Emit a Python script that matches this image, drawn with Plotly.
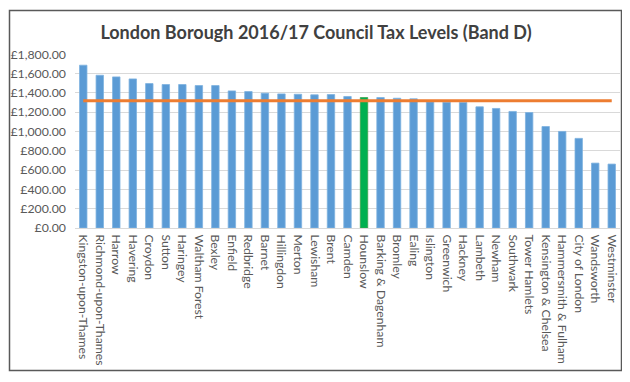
import plotly.graph_objects as go

boroughs = ["Kingston-upon-Thames", "Richmond-upon-Thames", "Harrow", "Havering", "Croydon",
            "Sutton", "Haringey", "Waltham Forest", "Bexley", "Enfield", "Redbridge", "Barnet",
            "Hillingdon", "Merton", "Lewisham", "Brent", "Camden", "Hounslow",
            "Barking & Dagenham", "Bromley", "Ealing", "Islington", "Greenwich", "Hackney",
            "Lambeth", "Newham", "Southwark", "Tower Hamlets", "Kensington & Chelsea",
            "Hammersmith & Fulham", "City of London", "Wandsworth", "Westminster"]
band_d = [1686, 1582, 1565, 1544, 1496, 1486, 1486, 1475, 1475, 1420, 1413, 1396,
          1389, 1385, 1379, 1382, 1362, 1351, 1351, 1344, 1338, 1306, 1303, 1300,
          1255, 1238, 1207, 1196, 1051, 1000, 928, 672, 662]
highlight = "Hounslow"
average = 1319
average_line = [average] * len(boroughs)

BLUE = "#5B9BD5"
GREEN = "#00B050"
ORANGE = "#ED7D31"
colors = [GREEN if b == highlight else BLUE for b in boroughs]
edge = ["#3FA34D" if b == highlight else "#7FB2E0" for b in boroughs]

fig = go.Figure()
fig.add_trace(go.Bar(x=boroughs, y=band_d, marker=dict(color=colors, line=dict(color=edge, width=0.8)),
                     width=0.45, showlegend=False))
fig.add_trace(go.Scatter(x=boroughs, y=average_line, mode="lines",
                         line=dict(color=ORANGE, width=3), showlegend=False))

# page has an 8px body margin; work in page pixels and shift
OFF = 8
W, H = 630 - 2 * OFF, 382 - 2 * OFF
PL, PR, PT, PB = 75, 620, 54, 228  # plot area in page pixels
L, R, T, B = PL - OFF, W - (PR - OFF), PT - OFF, H - (PB - OFF)
pw, ph = W - L - R, H - T - B

def px(x):
    return (x - OFF - L) / pw

def py(y):
    return (H - B - (y - OFF)) / ph

fig.update_layout(
    width=W, height=H,
    margin=dict(l=L, r=R, t=T, b=B, autoexpand=False),
    paper_bgcolor="white", plot_bgcolor="white",
    font=dict(family="Lato, Open Sans, sans-serif", color="#595959", size=12),
    title=dict(text="<b>London Borough 2016/17 Council Tax Levels (Band D)</b>",
               x=px(316), xref="paper", xanchor="center", y=1 - (33 - OFF) / H, yanchor="middle",
               font=dict(size=18, color="#404040", family="Lato, Open Sans, sans-serif")),
    xaxis=dict(tickangle=90, showgrid=False, ticks="", showline=True, linecolor="#D9D9D9",
               linewidth=1, automargin=False, ticklabelstandoff=3,
               tickfont=dict(size=12.2, color="#595959")),
    yaxis=dict(range=[0, 1802], dtick=200, tickprefix="£", tickformat=",.2f",
               showgrid=True, gridcolor="#D9D9D9", gridwidth=1, zeroline=False,
               automargin=False, ticks="", ticklabelstandoff=8,
               tickfont=dict(size=12.3, color="#595959")),
    shapes=[dict(type="rect", xref="paper", yref="paper",
                 x0=px(9.5), x1=px(621.5), y0=py(370.5), y1=py(10.5),
                 line=dict(color="#595959", width=1.5), fillcolor="rgba(0,0,0,0)")],
    bargap=0.5,
)

fig.write_html("out.html")
